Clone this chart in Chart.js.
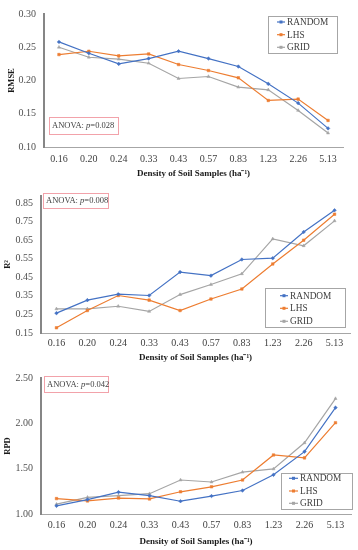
<!DOCTYPE html>
<html>
<head>
<meta charset="utf-8">
<script src="https://cdn.jsdelivr.net/npm/chart.js@4.4.1/dist/chart.umd.min.js"></script>
<style>
body { margin: 0; background: #fff; width: 358px; height: 550px; position: relative; overflow: hidden; }
.panel { position: absolute; left: 0; width: 358px; }
</style>
</head>
<body>
<div class="panel" style="top:0;height:182px"><canvas id="rmseChart"></canvas></div>
<div class="panel" style="top:182px;height:182px"><canvas id="r2Chart"></canvas></div>
<div class="panel" style="top:364px;height:186px"><canvas id="rpdChart"></canvas></div>
<script>
const densities = ['0.16', '0.20', '0.24', '0.33', '0.43', '0.57', '0.83', '1.23', '2.26', '5.13'];
const seriesNames = ['RANDOM', 'LHS', 'GRID'];

const rmseRandom = [0.258, 0.241, 0.225, 0.233, 0.244, 0.233, 0.221, 0.195, 0.166, 0.128];
const rmseLhs    = [0.239, 0.244, 0.237, 0.240, 0.224, 0.215, 0.204, 0.170, 0.172, 0.140];
const rmseGrid   = [0.250, 0.235, 0.232, 0.226, 0.203, 0.206, 0.190, 0.186, 0.155, 0.121];

const r2Random = [0.257, 0.327, 0.359, 0.352, 0.478, 0.459, 0.546, 0.553, 0.694, 0.811];
const r2Lhs    = [0.178, 0.271, 0.352, 0.327, 0.271, 0.333, 0.387, 0.522, 0.650, 0.790];
const r2Grid   = [0.280, 0.280, 0.294, 0.266, 0.357, 0.411, 0.469, 0.657, 0.620, 0.754];

const rpdRandom = [1.090, 1.159, 1.241, 1.202, 1.141, 1.198, 1.259, 1.432, 1.688, 2.173];
const rpdLhs    = [1.170, 1.144, 1.176, 1.166, 1.245, 1.300, 1.375, 1.651, 1.619, 2.007];
const rpdGrid   = [1.108, 1.184, 1.202, 1.224, 1.375, 1.353, 1.461, 1.497, 1.785, 2.273];

const rmseTicks = [0.10, 0.15, 0.20, 0.25, 0.30];
const r2Ticks = [0.15, 0.25, 0.35, 0.45, 0.55, 0.65, 0.75, 0.85];
const rpdTicks = [1.00, 1.50, 2.00, 2.50];

const anovaP = ['0.028', '0.008', '0.042'];
const xTitle = 'Density of Soil Samples (ha\u207B\u00B9)';

const colors = ['#4472c4', '#ed7d31', '#a5a5a5'];
const markers = ['rectRot', 'rect', 'triangle'];
const serif = '"Liberation Serif", "Times New Roman", serif';
const textColor = '#404040';

// legend + ANOVA box drawn over the plot
const overlay = {
    id: 'overlay',
    afterDraw(chart, args, o) {
        const ctx = chart.ctx;
        ctx.save();
        const lg = o.legend;
        ctx.strokeStyle = '#a6a6a6';
        ctx.lineWidth = 1;
        ctx.strokeRect(lg.x + 0.5, lg.y + 0.5, lg.w, lg.h);
        ctx.font = '9.3px ' + serif;
        ctx.textBaseline = 'middle';
        chart.data.datasets.forEach((ds, i) => {
            const y = lg.rows[i];
            ctx.strokeStyle = ds.borderColor;
            ctx.lineWidth = 1.2;
            ctx.beginPath();
            ctx.moveTo(lg.lx, y);
            ctx.lineTo(lg.lx + lg.lw, y);
            ctx.stroke();
            ctx.fillStyle = ds.borderColor;
            ctx.fillRect(lg.lx + lg.lw / 2 - 1.5, y - 1.5, 3, 3);
            ctx.fillStyle = textColor;
            ctx.fillText(ds.label, lg.tx, y + 0.5);
        });

        const nb = o.note;
        ctx.strokeStyle = '#f2a2aa';
        ctx.lineWidth = 1;
        ctx.strokeRect(nb.x + 0.5, nb.y + 0.5, nb.w, nb.h);
        ctx.fillStyle = textColor;
        let x = nb.x + 3;
        const y = nb.y + nb.h / 2 + 0.5;
        ctx.font = '8.5px ' + serif;
        ctx.fillText('ANOVA: ', x, y);
        x += ctx.measureText('ANOVA: ').width;
        ctx.font = 'italic 8.5px ' + serif;
        ctx.fillText('p', x, y);
        x += ctx.measureText('p').width;
        ctx.font = '8.5px ' + serif;
        ctx.fillText('=' + o.p, x, y);
        ctx.restore();
    }
};

function makeChart(id, cfg) {
    const datasets = cfg.series.map((data, i) => ({
        label: seriesNames[i],
        data,
        borderColor: colors[i],
        backgroundColor: colors[i],
        borderWidth: 1.2,
        pointStyle: markers[i],
        pointRadius: 1.8,
        pointBorderWidth: 0.5,
        tension: 0
    }));
    new Chart(document.getElementById(id), {
        type: 'line',
        data: { labels: densities, datasets },
        plugins: [overlay],
        options: {
            responsive: true,
            maintainAspectRatio: false,
            animation: false,
            layout: { padding: { top: cfg.area.top, right: 358 - cfg.area.right, left: 0, bottom: 0 } },
            plugins: {
                legend: { display: false },
                tooltip: { enabled: false },
                overlay: { legend: cfg.legend, note: cfg.note, p: cfg.p }
            },
            scales: {
                x: {
                    offset: true,
                    grid: { display: false, drawTicks: false },
                    border: { color: '#a6a6a6', width: 1 },
                    ticks: { color: textColor, font: { family: serif, size: 10 }, padding: cfg.xTickPad, maxRotation: 0, autoSkip: false },
                    title: { display: true, text: xTitle, color: '#1a1a1a', font: { family: serif, size: 9, weight: 'bold' }, padding: { top: 0, bottom: cfg.xTitlePad } },
                    afterFit: s => { s.height = cfg.height - cfg.area.bottom; }
                },
                y: {
                    min: cfg.ticks[0],
                    max: cfg.yMax,
                    grid: { display: false, drawTicks: false },
                    border: { color: '#868686', width: 2 },
                    afterBuildTicks: s => { s.ticks = cfg.ticks.map(v => ({ value: v })); },
                    ticks: { color: '#505050', font: { family: serif, size: 10 }, padding: 8, callback: v => Number(v).toFixed(2) },
                    title: { display: true, text: cfg.yTitle, color: '#1a1a1a', font: { family: serif, size: 8.5, weight: 'bold' }, padding: { top: cfg.yTitlePad, bottom: 0 } },
                    afterFit: s => { s.width = cfg.area.left; }
                }
            }
        }
    });
}

makeChart('rmseChart', {
    series: [rmseRandom, rmseLhs, rmseGrid],
    ticks: rmseTicks, yMax: 0.30, yTitle: 'RMSE', p: anovaP[0],
    height: 182, area: { left: 44, right: 343, top: 7, bottom: 147 },
    xTickPad: 6, xTitlePad: 2.6, yTitlePad: 7,
    legend: { x: 268, y: 16, w: 69, h: 37, rows: [22, 34.7, 47.3], lx: 277, lw: 8, tx: 287 },
    note: { x: 49, y: 117, w: 69, h: 17 }
});

makeChart('r2Chart', {
    series: [r2Random, r2Lhs, r2Grid],
    ticks: r2Ticks, yMax: 0.888, yTitle: 'R\u00B2', p: anovaP[1],
    height: 182, area: { left: 41, right: 350, top: 11, bottom: 151 },
    xTickPad: 4, xTitlePad: 0.6, yTitlePad: 3,
    legend: { x: 265, y: 106, w: 80, h: 39, rows: [113.7, 126.3, 139.3], lx: 280, lw: 8, tx: 290 },
    note: { x: 43, y: 11, w: 65, h: 15 }
});

makeChart('rpdChart', {
    series: [rpdRandom, rpdLhs, rpdGrid],
    ticks: rpdTicks, yMax: 2.50, yTitle: 'RPD', p: anovaP[2],
    height: 186, area: { left: 41, right: 351, top: 11, bottom: 150 },
    xTickPad: 5, xTitlePad: 2.6, yTitlePad: 3,
    legend: { x: 281, y: 109, w: 71, h: 36, rows: [114.3, 127, 139.3], lx: 289, lw: 9, tx: 300 },
    note: { x: 44, y: 12, w: 64, h: 16 }
});
</script>
</body>
</html>
